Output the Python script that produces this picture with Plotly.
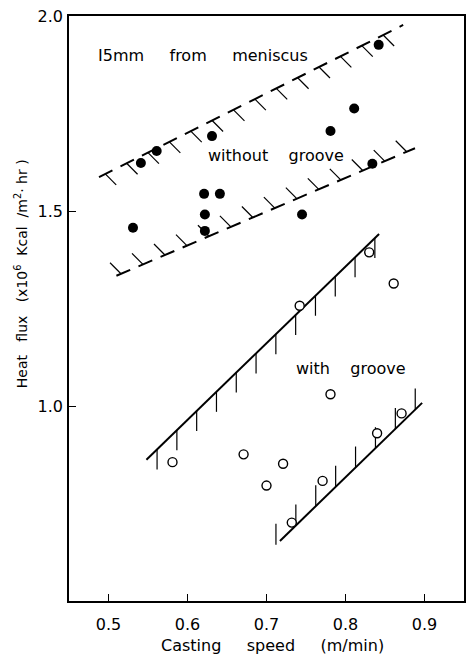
import math
import plotly.graph_objects as go

# ---------------- data ----------------
# without groove (filled circles)
filled_x = [0.531, 0.541, 0.561, 0.621, 0.622, 0.622, 0.631, 0.641, 0.745, 0.781, 0.811, 0.834, 0.842]
filled_y = [1.457, 1.623, 1.654, 1.544, 1.491, 1.449, 1.692, 1.544, 1.491, 1.705, 1.763, 1.621, 1.926]
# with groove (open circles)
open_x = [0.581, 0.671, 0.700, 0.721, 0.732, 0.742, 0.771, 0.781, 0.830, 0.840, 0.861, 0.871]
open_y = [0.856, 0.876, 0.796, 0.852, 0.701, 1.257, 0.808, 1.030, 1.394, 0.930, 1.314, 0.981]

# band boundary lines (endpoints)
nog_upper_x = [0.488, 0.873]
nog_upper_y = [1.587, 1.977]
nog_lower_x = [0.510, 0.888]
nog_lower_y = [1.334, 1.661]
grv_upper_x = [0.548, 0.8425]
grv_upper_y = [0.862, 1.441]
grv_lower_x = [0.717, 0.897]
grv_lower_y = [0.654, 1.008]

x_ticks = [0.5, 0.6, 0.7, 0.8, 0.9]
x_tick_labels = ["0.5", "0.6", "0.7", "0.8", "0.9"]
y_ticks = [1.0, 1.5, 2.0]
y_tick_labels = ["1.0", "1.5", "2.0"]

X_RANGE = [0.45, 0.95]
Y_RANGE = [0.5, 2.0]

# ---------------- layout geometry ----------------
W, H = 467, 659
ML, MR, MT, MB = 69, 1, 16, 58
PW = W - ML - MR
PH = H - MT - MB
SX = PW / (X_RANGE[1] - X_RANGE[0])   # px per data unit (x)
SY = PH / (Y_RANGE[1] - Y_RANGE[0])   # px per data unit (y)

FONT = "DejaVu Sans"
NB = "\u00a0"


def hatch_along(xs, ys, start, step, vec_px):
    """Hatch segments placed along a line every `step` px, each a vector in px (screen: +y down)."""
    x0, x1 = xs
    y0, y1 = ys
    dxp = (x1 - x0) * SX
    dyp = -(y1 - y0) * SY
    L = math.hypot(dxp, dyp)
    ux, uy = dxp / L, dyp / L
    hx, hy = [], []
    s = start
    while s <= L + 0.5:
        bx = x0 + s * ux / SX
        by = y0 - s * uy / SY
        hx += [bx, bx + vec_px[0] / SX, None]
        hy += [by, by - vec_px[1] / SY, None]
        s += step
    return hx, hy


def hatch_vertical(xs, ys, start, step, length_px):
    """Vertical hatches at regular x spacing (px); length>0 means downward."""
    x0, x1 = xs
    y0, y1 = ys
    slope = (y1 - y0) / (x1 - x0)
    total = (x1 - x0) * SX
    hx, hy = [], []
    s = start
    while s <= total + 0.5:
        bx = x0 + s / SX
        by = y0 + slope * (bx - x0)
        hx += [bx, bx, None]
        hy += [by, by - length_px / SY, None]
        s += step
    return hx, hy


fig = go.Figure()

# dashed band (without groove)
DASH = "15px,9px"
for xs, ys in [(nog_upper_x, nog_upper_y), (nog_lower_x, nog_lower_y)]:
    fig.add_trace(go.Scatter(x=xs, y=ys, mode="lines",
                             line=dict(color="black", width=2, dash=DASH),
                             hoverinfo="skip", showlegend=False))
hx1, hy1 = hatch_along(nog_upper_x, nog_upper_y, 7, 24, (11, 11))
hx2, hy2 = hatch_along(nog_lower_x, nog_lower_y, 5, 24, (-11, -11))

# solid band (with groove)
for xs, ys in [(grv_upper_x, grv_upper_y), (grv_lower_x, grv_lower_y)]:
    fig.add_trace(go.Scatter(x=xs, y=ys, mode="lines",
                             line=dict(color="black", width=2),
                             hoverinfo="skip", showlegend=False))
hx3, hy3 = hatch_vertical(grv_upper_x, grv_upper_y, 10.7, 19.9, 20)
hx4, hy4 = hatch_vertical(grv_lower_x, grv_lower_y, -4, 20, -21)

fig.add_trace(go.Scatter(x=hx1 + hx2 + hx3 + hx4, y=hy1 + hy2 + hy3 + hy4, mode="lines",
                         line=dict(color="black", width=1.2),
                         hoverinfo="skip", showlegend=False, connectgaps=False))

# points
fig.add_trace(go.Scatter(x=filled_x, y=filled_y, mode="markers",
                         marker=dict(symbol="circle", size=10, color="black"),
                         name="without groove", showlegend=False))
fig.add_trace(go.Scatter(x=open_x, y=open_y, mode="markers",
                         marker=dict(symbol="circle", size=9, color="white",
                                     line=dict(color="black", width=1.4)),
                         name="with groove", showlegend=False))

annots = [
    dict(x=0.62, y=1.90, text=f"I5mm{NB*5}from{NB*5}meniscus"),
    dict(x=0.712, y=1.642, text=f"without{NB*4}groove"),
    dict(x=0.807, y=1.095, text=f"with{NB*4}groove"),
]
for a in annots:
    fig.add_annotation(x=a["x"], y=a["y"], text=a["text"], showarrow=False,
                       xanchor="center", yanchor="middle",
                       font=dict(family=FONT, size=16, color="black"))

# axis titles as annotations
fig.add_annotation(xref="paper", yref="paper", x=(274 - ML) / PW, y=-(645 - MT - PH) / PH,
                   text=f"Casting{NB*5}speed{NB*5}(m/min)", showarrow=False,
                   xanchor="center", yanchor="middle",
                   font=dict(family=FONT, size=16, color="black"))
fig.add_annotation(xref="paper", yref="paper", x=(21 - ML) / PW, y=1 - (274 - MT) / PH,
                   text=f"Heat{NB*3}flux{NB*3}(x10<sup>6</sup>{NB*2}Kcal{NB*2}/m<sup>2</sup>·{NB}hr{NB})",
                   textangle=-90, showarrow=False,
                   xanchor="center", yanchor="middle",
                   font=dict(family=FONT, size=14, color="black"))

axis_common = dict(showgrid=False, zeroline=False, showline=True, linecolor="black",
                   linewidth=1.5, mirror=True, ticks="inside", ticklen=7, tickwidth=1.3,
                   tickcolor="black", tickfont=dict(family=FONT, size=16, color="black"))

fig.update_xaxes(range=X_RANGE, tickvals=x_ticks, ticktext=x_tick_labels,
                 ticklabelstandoff=8, **axis_common)
fig.update_yaxes(range=Y_RANGE, tickvals=y_ticks, ticktext=y_tick_labels,
                 ticklabelstandoff=1, **axis_common)

fig.update_layout(width=W, height=H, margin=dict(l=ML, r=MR, t=MT, b=MB),
                  plot_bgcolor="white", paper_bgcolor="white", showlegend=False)

fig.write_html("out.html", config={"displayModeBar": False},
               post_script="document.body.style.margin='0';document.body.style.overflow='hidden';")
